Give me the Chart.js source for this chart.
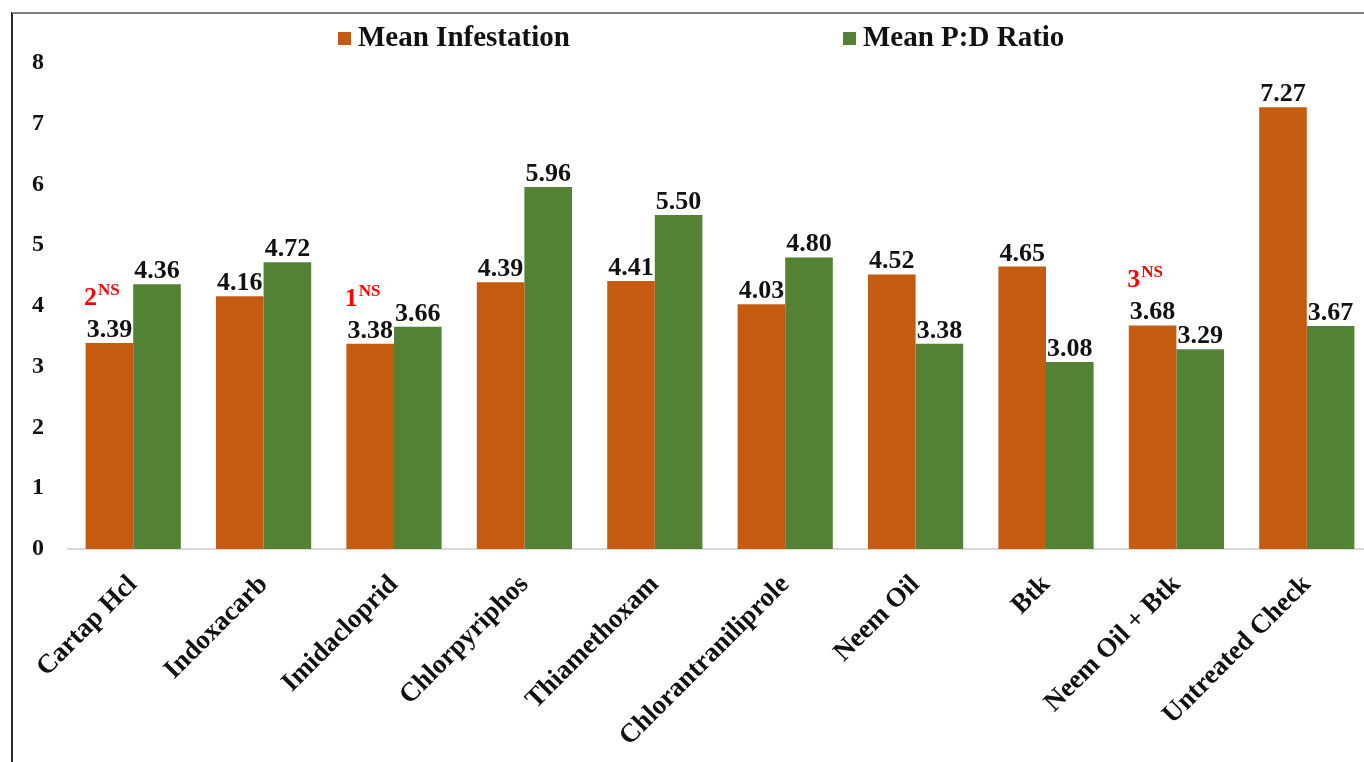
<!DOCTYPE html>
<html>
<head>
<meta charset="utf-8">
<script src="https://cdn.jsdelivr.net/npm/chart.js@4.4.1/dist/chart.umd.min.js"></script>
<style>
  html, body { margin: 0; padding: 0; background: #fff; overflow: hidden; }
  #wrap { position: relative; width: 1364px; height: 762px; overflow: hidden; }
  #frame { position: absolute; left: 11px; top: 12px; right: 0; bottom: -5px;
           border-top: 2px solid #7f7f7f; border-left: 2px solid #2b2b2b; pointer-events: none; }
  canvas { position: absolute; left: 0; top: 0; }
</style>
</head>
<body>
<div id="wrap">
  <canvas id="chart" width="1372" height="762" style="width:1372px;height:762px"></canvas>
  <div id="frame"></div>
</div>
<script>
// Treatments and their measured means
const categories = ['Cartap Hcl', 'Indoxacarb', 'Imidacloprid', 'Chlorpyriphos', 'Thiamethoxam',
  'Chlorantraniliprole', 'Neem Oil', 'Btk', 'Neem Oil + Btk', 'Untreated Check'];
const meanInfestation = [3.39, 4.16, 3.38, 4.39, 4.41, 4.03, 4.52, 4.65, 3.68, 7.27];
const meanPDRatio = [4.36, 4.72, 3.66, 5.96, 5.50, 4.80, 3.38, 3.08, 3.29, 3.67];
// Rank markers (non-significant) shown above the infestation bars
const rankMarks = ['2', null, '1', null, null, null, null, null, '3', null];
const rankSuffix = 'NS';
const yTicks = [0, 1, 2, 3, 4, 5, 6, 7, 8];

const ORANGE = '#C55A11';
const GREEN = '#548235';
const SERIF = '"Liberation Serif", "Times New Roman", serif';

// Value labels and rank markers above each bar
const barLabels = {
  id: 'barLabels',
  afterDatasetsDraw(chart) {
    const ctx = chart.ctx;
    ctx.save();
    ctx.textAlign = 'center';
    ctx.textBaseline = 'alphabetic';
    chart.data.datasets.forEach((ds, di) => {
      const meta = chart.getDatasetMeta(di);
      meta.data.forEach((bar, i) => {
        ctx.font = 'bold 26px ' + SERIF;
        ctx.fillStyle = '#111';
        ctx.fillText(ds.data[i].toFixed(2), bar.x, bar.y - 6);
        if (di === 0 && rankMarks[i]) {
          ctx.font = 'bold 26px ' + SERIF;
          const w1 = ctx.measureText(rankMarks[i]).width;
          ctx.font = 'bold 17px ' + SERIF;
          const w2 = ctx.measureText(rankSuffix).width;
          const x0 = bar.x - 8 - (w1 + w2) / 2;
          ctx.textAlign = 'left';
          ctx.fillStyle = '#FF0000';
          ctx.font = 'bold 26px ' + SERIF;
          ctx.fillText(rankMarks[i], x0, bar.y - 38);
          ctx.font = 'bold 17px ' + SERIF;
          ctx.fillText(rankSuffix, x0 + w1 + 1, bar.y - 48);
          ctx.textAlign = 'center';
        }
      });
    });
    ctx.restore();
  }
};

// Legend row across the top
const topLegend = {
  id: 'topLegend',
  afterDraw(chart) {
    const ctx = chart.ctx;
    ctx.save();
    ctx.font = 'bold 29px ' + SERIF;
    ctx.textBaseline = 'middle';
    ctx.textAlign = 'left';
    const items = [[338, chart.data.datasets[0]], [843, chart.data.datasets[1]]];
    items.forEach(([x, ds]) => {
      ctx.fillStyle = ds.backgroundColor;
      ctx.fillRect(x, 32, 13, 13);
      ctx.fillStyle = '#111';
      ctx.fillText(ds.label, x + 20, 39);
    });
    ctx.restore();
  }
};

new Chart(document.getElementById('chart'), {
  type: 'bar',
  data: {
    labels: categories,
    datasets: [
      { label: 'Mean Infestation', data: meanInfestation, backgroundColor: ORANGE,
        categoryPercentage: 0.73, barPercentage: 1.0 },
      { label: 'Mean P:D Ratio', data: meanPDRatio, backgroundColor: GREEN,
        categoryPercentage: 0.73, barPercentage: 1.0 }
    ]
  },
  options: {
    responsive: false,
    animation: false,
    layout: { padding: { top: 63, left: 0, right: 0, bottom: 0 } },
    plugins: { legend: { display: false }, tooltip: { enabled: false } },
    scales: {
      x: {
        grid: { display: false, drawTicks: false },
        border: { display: true, color: '#d9d9d9', width: 2 },
        ticks: {
          color: '#111', font: { family: SERIF, size: 27, weight: 'bold' },
          maxRotation: 45, minRotation: 45, padding: 20, autoSkip: false
        },
        afterFit(scale) { scale.height = 213; }
      },
      y: {
        min: 0, max: 8,
        afterBuildTicks(scale) { scale.ticks = yTicks.map(v => ({ value: v })); },
        grid: { display: false, drawTicks: false },
        border: { display: false },
        ticks: { color: '#111', font: { family: SERIF, size: 24, weight: 'bold' }, padding: 24 },
        afterFit(scale) { scale.width = 68; }
      }
    }
  },
  plugins: [barLabels, topLegend]
});
</script>
</body>
</html>
